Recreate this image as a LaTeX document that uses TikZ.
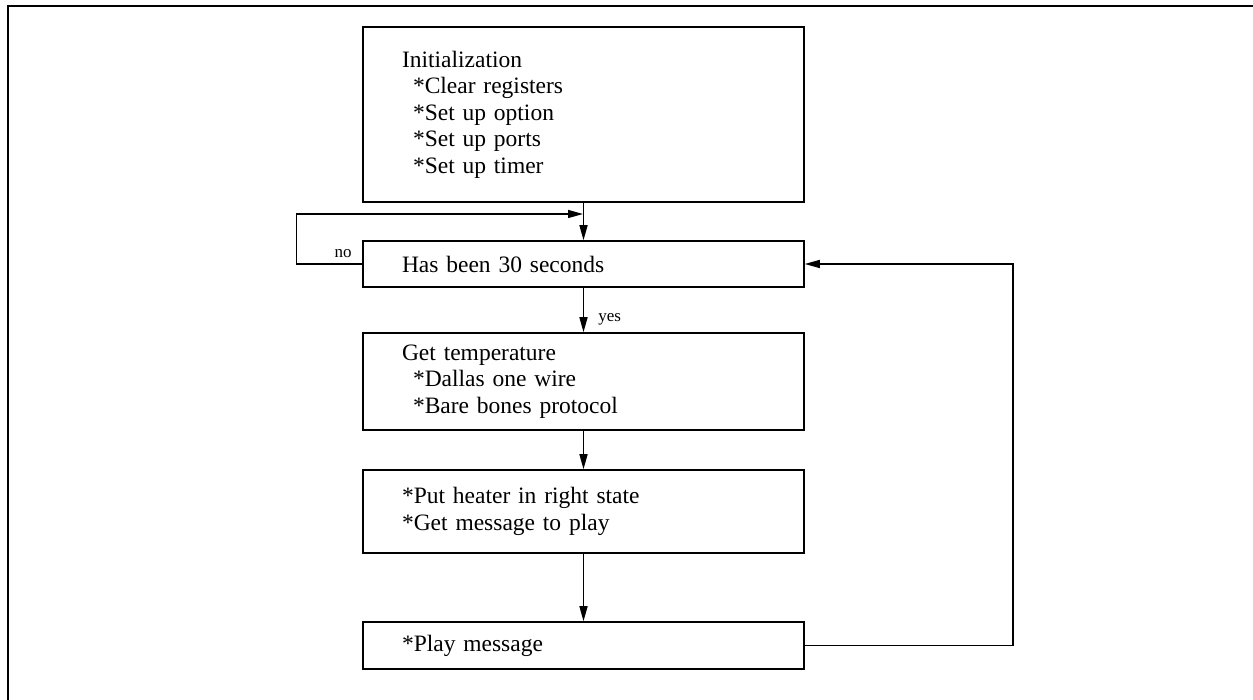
\documentclass[tikz,border=0pt]{standalone}
\usepackage{fontspec}
\setmainfont{Liberation Serif}
\usetikzlibrary{arrows.meta}

\begin{document}
\begin{tikzpicture}[x=0.5pt,y=0.5pt,line width=0.75pt,>={Triangle[length=7.5pt,width=4pt]},
    box/.style={draw,rectangle,text width=181.5pt,inner xsep=19.5pt,inner ysep=0pt,align=left,font=\fontsize{11.75}{13.25}\selectfont},
    tag/.style={font=\fontsize{8.5}{10}\selectfont,inner sep=1pt}]
        \useasboundingbox (0,0) rectangle (1253,700);
        \draw[line width=1.1pt] (8,0) -- (8,694) -- (1253,694);
        \node[box,minimum height=87.5pt] (init) at (583.5,585.5) {Initialization\\
            \hspace*{5.5pt}*Clear registers\\ \hspace*{5.5pt}*Set up option\\
            \hspace*{5.5pt}*Set up ports\\ \hspace*{5.5pt}*Set up timer};
        \node[box,minimum height=23pt] (wait) at (583.5,436) {Has been 30 seconds};
        \node[box,minimum height=48.5pt] (temp) at (583.5,318.5) {Get temperature\\
            \hspace*{5.5pt}*Dallas one wire\\ \hspace*{5.5pt}*Bare bones protocol};
        \node[box,minimum height=41.5pt] (heat) at (583.5,188.5) {*Put heater in right state\\ {}*Get message to play};
        \node[box,minimum height=23.5pt] (play) at (583.5,54.5) {*Play message};
        \coordinate (back) at (583,486);
        \draw[->] (init.south) -- (wait.north);
        \draw[->] (wait.west) -- node[tag,above=2pt,pos=0.29]{no} ++(-66,0) |- (back);
        \draw[->] (wait.south) -- node[tag,right=6pt,pos=0.72]{yes} (temp.north);
        \draw[->] (temp.south) -- (heat.north);
        \draw[->] (heat.south) -- (play.north);
        \draw[->] (play.east) -- ++(208,0) |- (wait.east);
      \end{tikzpicture}
\end{document}
